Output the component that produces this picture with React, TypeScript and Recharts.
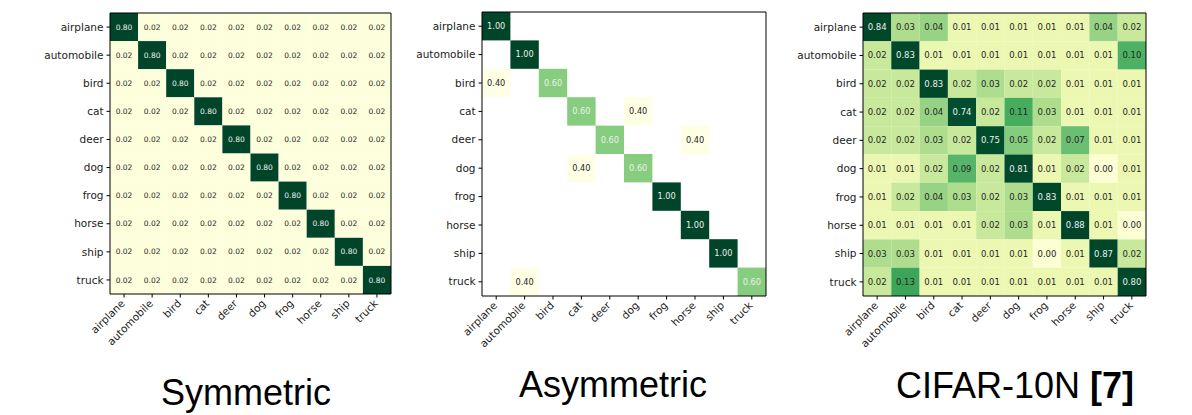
import React from 'react'
import { ScatterChart, Scatter, XAxis, YAxis, ReferenceArea } from 'recharts'

const CLASSES = ['airplane', 'automobile', 'bird', 'cat', 'deer', 'dog', 'frog', 'horse', 'ship', 'truck']
const TICKS = [0, 1, 2, 3, 4, 5, 6, 7, 8, 9]

const SYMMETRIC = [
  [0.8, 0.02, 0.02, 0.02, 0.02, 0.02, 0.02, 0.02, 0.02, 0.02],
  [0.02, 0.8, 0.02, 0.02, 0.02, 0.02, 0.02, 0.02, 0.02, 0.02],
  [0.02, 0.02, 0.8, 0.02, 0.02, 0.02, 0.02, 0.02, 0.02, 0.02],
  [0.02, 0.02, 0.02, 0.8, 0.02, 0.02, 0.02, 0.02, 0.02, 0.02],
  [0.02, 0.02, 0.02, 0.02, 0.8, 0.02, 0.02, 0.02, 0.02, 0.02],
  [0.02, 0.02, 0.02, 0.02, 0.02, 0.8, 0.02, 0.02, 0.02, 0.02],
  [0.02, 0.02, 0.02, 0.02, 0.02, 0.02, 0.8, 0.02, 0.02, 0.02],
  [0.02, 0.02, 0.02, 0.02, 0.02, 0.02, 0.02, 0.8, 0.02, 0.02],
  [0.02, 0.02, 0.02, 0.02, 0.02, 0.02, 0.02, 0.02, 0.8, 0.02],
  [0.02, 0.02, 0.02, 0.02, 0.02, 0.02, 0.02, 0.02, 0.02, 0.8],
]

const ASYMMETRIC = [
  [1, 0, 0, 0, 0, 0, 0, 0, 0, 0],
  [0, 1, 0, 0, 0, 0, 0, 0, 0, 0],
  [0.4, 0, 0.6, 0, 0, 0, 0, 0, 0, 0],
  [0, 0, 0, 0.6, 0, 0.4, 0, 0, 0, 0],
  [0, 0, 0, 0, 0.6, 0, 0, 0.4, 0, 0],
  [0, 0, 0, 0.4, 0, 0.6, 0, 0, 0, 0],
  [0, 0, 0, 0, 0, 0, 1, 0, 0, 0],
  [0, 0, 0, 0, 0, 0, 0, 1, 0, 0],
  [0, 0, 0, 0, 0, 0, 0, 0, 1, 0],
  [0, 0.4, 0, 0, 0, 0, 0, 0, 0, 0.6],
]

const CIFAR10N = [
  [0.84, 0.03, 0.04, 0.01, 0.01, 0.01, 0.01, 0.01, 0.04, 0.02],
  [0.02, 0.83, 0.01, 0.01, 0.01, 0.01, 0.01, 0.01, 0.01, 0.1],
  [0.02, 0.02, 0.83, 0.02, 0.03, 0.02, 0.02, 0.01, 0.01, 0.01],
  [0.02, 0.02, 0.04, 0.74, 0.02, 0.11, 0.03, 0.01, 0.01, 0.01],
  [0.02, 0.02, 0.03, 0.02, 0.75, 0.05, 0.02, 0.07, 0.01, 0.01],
  [0.01, 0.01, 0.02, 0.09, 0.02, 0.81, 0.01, 0.02, 0.0, 0.01],
  [0.01, 0.02, 0.04, 0.03, 0.02, 0.03, 0.83, 0.01, 0.01, 0.01],
  [0.01, 0.01, 0.01, 0.01, 0.02, 0.03, 0.01, 0.88, 0.01, 0.0],
  [0.03, 0.03, 0.01, 0.01, 0.01, 0.01, 0.0, 0.01, 0.87, 0.02],
  [0.02, 0.13, 0.01, 0.01, 0.01, 0.01, 0.01, 0.01, 0.01, 0.8],
]

// matplotlib YlGn
const YLGN = ['#ffffe5', '#f7fcb9', '#d9f0a3', '#addd8e', '#78c679', '#41ab5d', '#238443', '#006837', '#004529']

const hex = (c: string) => [1, 3, 5].map((i) => parseInt(c.slice(i, i + 2), 16))
const ylgn = (t: number) => {
  const s = Math.max(0, Math.min(1, t)) * (YLGN.length - 1)
  const i = Math.min(Math.floor(s), YLGN.length - 2)
  const f = s - i
  const a = hex(YLGN[i])
  const b = hex(YLGN[i + 1])
  const m = a.map((v, k) => Math.round(v + (b[k] - v) * f))
  return `rgb(${m[0]},${m[1]},${m[2]})`
}

const toCells = (matrix: number[][], skipZero: boolean) =>
  matrix.flatMap((row, r) =>
    row.map((v, c) => ({ x: c, y: r, v })).filter((d) => !skipZero || d.v > 0)
  )

const font = '"DejaVu Sans", sans-serif'

const YTick = ({ x, y, payload }: any) => (
  <text x={x} y={y} dy="0.35em" textAnchor="end" fontSize={10.5} fontFamily={font} fill="#222">
    {CLASSES[payload.value]}
  </text>
)

const XTick = ({ x, y, payload }: any) => (
  <text
    x={x - 1}
    y={y + 2}
    dy="0.35em"
    textAnchor="end"
    fontSize={10.5}
    fontFamily={font}
    fill="#222"
    transform={`rotate(-45, ${x - 1}, ${y + 2})`}
  >
    {CLASSES[payload.value]}
  </text>
)

interface PanelProps {
  cells: { x: number; y: number; v: number }[]
  left: number
  top: number
  size: number
  norm: (v: number) => number
  fontSize: number
}

const Panel = ({ cells, left, top, size, norm, fontSize }: PanelProps) => {
  const vmax = Math.max(...cells.map((d) => d.v))
  const cell = size / 10
  const shape = (p: any) => {
    const { cx, cy, payload } = p
    const v = payload.v
    return (
      <g>
        <rect x={cx - cell / 2} y={cy - cell / 2} width={cell} height={cell} fill={ylgn(norm(v))} />
        <text
          x={cx}
          y={cy}
          dy="0.35em"
          textAnchor="middle"
          fontSize={fontSize}
          fontFamily={font}
          fill={v > vmax / 2 ? '#eeeeee' : '#262626'}
        >
          {v.toFixed(2)}
        </text>
      </g>
    )
  }
  return (
    <div style={{ position: 'absolute', left: left - 110, top: 0 }}>
      <ScatterChart width={110 + size + 10} height={top + size + 80} margin={{ top, right: 10, left: 0, bottom: 10 }}>
        <XAxis
          type="number"
          dataKey="x"
          domain={[-0.5, 9.5]}
          ticks={TICKS}
          interval={0}
          height={70}
          tickSize={3.5}
          tickMargin={2}
          axisLine={false}
          tickLine={{ stroke: '#000' }}
          tick={<XTick />}
        />
        <YAxis
          type="number"
          dataKey="y"
          domain={[-0.5, 9.5]}
          ticks={TICKS}
          interval={0}
          reversed
          width={110}
          tickSize={3.5}
          tickMargin={3}
          axisLine={false}
          tickLine={{ stroke: '#000' }}
          tick={<YTick />}
        />
        <Scatter data={cells} shape={shape} isAnimationActive={false} />
        <ReferenceArea
          x1={-0.5}
          x2={9.5}
          y1={-0.5}
          y2={9.5}
          fill="none"
          fillOpacity={0}
          stroke="#000"
          strokeWidth={1}
          ifOverflow="visible"
          zIndex={1500}
        />
      </ScatterChart>
    </div>
  )
}

export default function App() {
  return (
    <div style={{ position: 'absolute', left: 0, top: 0, width: 1192, height: 415, background: '#fff' }}>
      <Panel cells={toCells(SYMMETRIC, false)} left={110} top={13} size={281} norm={(v) => v / 0.8} fontSize={7.5} />
      <Panel
        cells={toCells(ASYMMETRIC, true)}
        left={482}
        top={12}
        size={284}
        norm={(v) => Math.pow(Math.max(0, (v - 0.4) / 0.6), 0.7)}
        fontSize={8.2}
      />
      <Panel
        cells={toCells(CIFAR10N, false)}
        left={863}
        top={13}
        size={283}
        norm={(v) => (v <= 0.004 ? 0.05 : Math.log(v / 0.004) / Math.log(0.88 / 0.004))}
        fontSize={8.5}
      />
      <svg width={1192} height={415} style={{ position: 'absolute', left: 0, top: 0, pointerEvents: 'none' }}>
        <g fontFamily='"Liberation Sans", Arial, sans-serif' fontSize={36} fill="#000" textAnchor="middle">
          <text x={246} y={405}>Symmetric</text>
          <text x={613} y={397}>Asymmetric</text>
          <text x={1015} y={398}>
            CIFAR-10N <tspan fontWeight="bold">[7]</tspan>
          </text>
        </g>
      </svg>
    </div>
  )
}
